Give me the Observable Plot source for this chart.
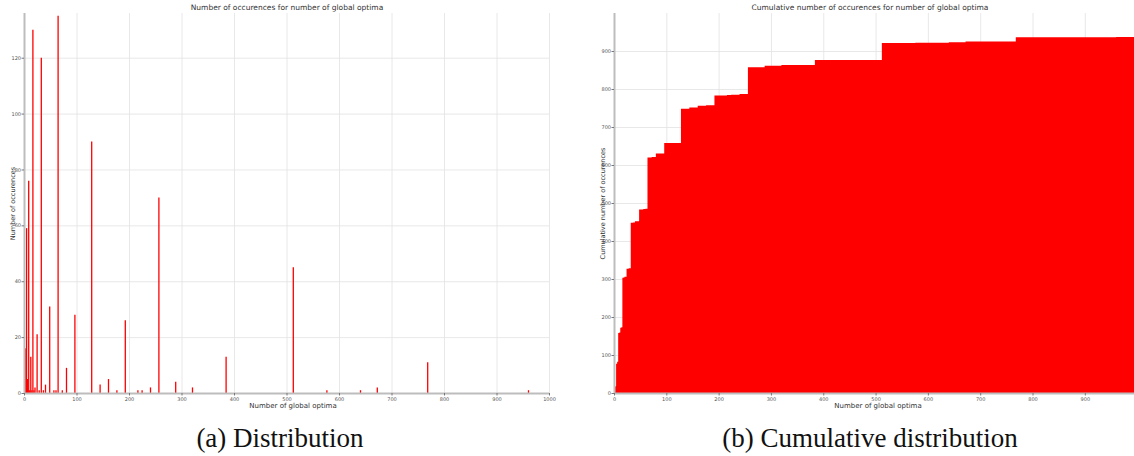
<!DOCTYPE html>
<html>
<head>
<meta charset="utf-8">
<script src="https://cdn.jsdelivr.net/npm/d3@7"></script>
<script src="https://cdn.jsdelivr.net/npm/@observablehq/plot@0.6"></script>
<style>
  body { margin: 0; background: #fff; }
  #fig { position: relative; width: 1134px; height: 456px; overflow: hidden; background: #fff; }
  .panel { position: absolute; top: 0; }
  .cap { position: absolute; top: 423px; font-family: "Liberation Serif", serif; font-size: 27px;
         line-height: 30px; text-align: center; color: #111; white-space: nowrap; }
</style>
</head>
<body>
<div id="fig">
  <div id="left" class="panel" style="left:0"></div>
  <div id="right" class="panel" style="left:590px"></div>
  <div class="cap" style="left:130px;width:300px">(a) Distribution</div>
  <div class="cap" style="left:670px;width:400px">(b) Cumulative distribution</div>
</div>
<script>
// Number of global optima and how often each count occurred
const optima = [1, 2, 3, 4, 6, 8, 10, 12, 14, 16,
                18, 20, 24, 28, 32, 36, 40, 48, 56, 60,
                64, 72, 80, 96, 128, 144, 160, 176, 192, 216,
                224, 240, 256, 288, 320, 384, 512, 576, 640, 672,
                768, 960];
const occurrences = [1, 16, 1, 59, 5, 76, 1, 13, 1, 130,
                     1, 2, 21, 1, 120, 1, 3, 31, 1, 1,
                     135, 1, 9, 28, 90, 3, 5, 1, 26, 1,
                     1, 2, 70, 4, 2, 13, 45, 1, 1, 2,
                     11, 1];

// Tick values
const distXTicks = [0, 100, 200, 300, 400, 500, 600, 700, 800, 900, 1000];
const distYTicks = [0, 20, 40, 60, 80, 100, 120];
const cumXTicks = [0, 100, 200, 300, 400, 500, 600, 700, 800, 900];
const cumYTicks = [0, 100, 200, 300, 400, 500, 600, 700, 800, 900];

// Text
const distTitle = "Number of occurences for number of global optima";
const cumTitle = "Cumulative number of occurences for number of global optima";
const xLabel = "Number of global optima";
const distYLabel = "Number of occurences";
const cumYLabel = "Cumulative number of occurences";

const rows = optima.map((x, i) => ({x, n: occurrences[i]}));

// Running total, stepped from the origin to the end of the x range
const cumEnd = 994;
const running = d3.cumsum(occurrences);
const cumRows = [{x: 0, c: 0}]
  .concat(optima.map((x, i) => ({x, c: running[i]})))
  .concat([{x: cumEnd, c: running[running.length - 1]}]);

const font = "DejaVu Sans, sans-serif";
const gridStyle = {stroke: "#e2e2e2", strokeOpacity: 1, strokeWidth: 0.8};
const axisLine = {stroke: "#bdbdbd", strokeWidth: 2};
const tickStyle = {tickSize: 2.5, tickPadding: 1, fontSize: 5, fill: "#555", stroke: "#777",
                   label: null, tickFormat: d3.format("d")};

function labels(title, yLabel, titleDx, xLabelDx) {
  return [
    Plot.text([title], {frameAnchor: "top", textAnchor: "middle", lineAnchor: "middle", dy: -6, dx: titleDx,
                        fontSize: 7.5, fill: "#333", fontFamily: font}),
    Plot.text([xLabel], {frameAnchor: "bottom", textAnchor: "middle", lineAnchor: "middle", dy: 12.5, dx: xLabelDx,
                         fontSize: 7, fill: "#333", fontFamily: font}),
    Plot.text([yLabel], {frameAnchor: "left", textAnchor: "middle", lineAnchor: "middle", rotate: -90, dx: -12,
                         fontSize: 6.5, fill: "#333", fontFamily: font})
  ];
}

const dist = Plot.plot({
  width: 560, height: 410,
  marginLeft: 24, marginRight: 11, marginTop: 13, marginBottom: 17,
  style: {fontFamily: font, background: "#fff"},
  x: {domain: [0, 1000]},
  y: {domain: [0, 136]},
  marks: [
    Plot.gridX(distXTicks, gridStyle),
    Plot.gridY(distYTicks, gridStyle),
    Plot.ruleX(rows, {x: "x", y1: 0, y2: "n", stroke: "#ff0000", strokeWidth: 1.3}),
    Plot.ruleY([0], axisLine),
    Plot.ruleX([0], axisLine),
    Plot.axisX(distXTicks, {anchor: "bottom", ...tickStyle}),
    Plot.axisY(distYTicks, {anchor: "left", ...tickStyle}),
    ...labels(distTitle, distYLabel, 0, 6)
  ]
});
document.getElementById("left").append(dist);

const cum = Plot.plot({
  width: 544, height: 410,
  marginLeft: 24, marginRight: 0, marginTop: 13, marginBottom: 17,
  style: {fontFamily: font, background: "#fff"},
  x: {domain: [0, cumEnd]},
  y: {domain: [0, 1000]},
  marks: [
    Plot.gridX(cumXTicks, gridStyle),
    Plot.gridY(cumYTicks, gridStyle),
    Plot.areaY(cumRows, {x: "x", y: "c", curve: "step-after", fill: "#ff0000"}),
    Plot.ruleY([0], axisLine),
    Plot.ruleX([0], axisLine),
    Plot.axisX(cumXTicks, {anchor: "bottom", ...tickStyle}),
    Plot.axisY(cumYTicks, {anchor: "left", ...tickStyle}),
    ...labels(cumTitle, cumYLabel, -4.5, 3.5)
  ]
});
document.getElementById("right").append(cum);
</script>
</body>
</html>
